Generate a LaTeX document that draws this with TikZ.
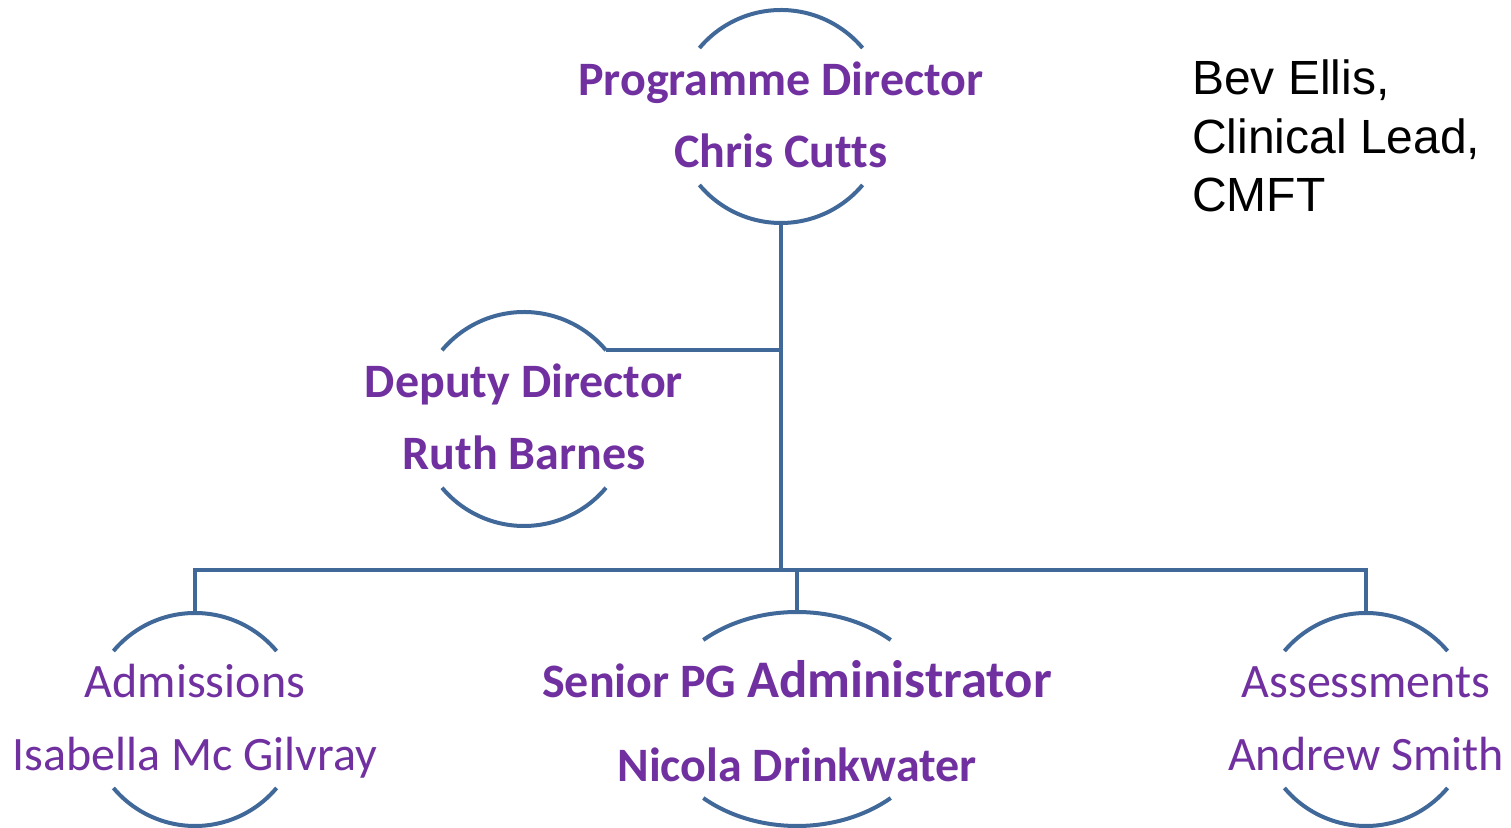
\documentclass[tikz,border=0pt]{standalone}
\usepackage{fontspec}
\setmainfont{Carlito}[Ligatures=NoCommon]
\newfontfamily\arialfont{Liberation Sans}
\usetikzlibrary{calc}
\definecolor{linecol}{RGB}{64,104,152}
\definecolor{txtpurple}{RGB}{112,48,160}
\tikzset{
  arcline/.style={draw=linecol, line width=3pt},
  conn/.style={draw=linecol, line width=3pt},
  holder/.style={circle, inner sep=0pt, outer sep=0pt, minimum size=#1*0.75pt},
  boldtxt/.style={text=txtpurple, font=\bfseries\fontsize{#1}{#1}\selectfont, anchor=base, inner sep=0pt},
  regtxt/.style={text=txtpurple, font=\fontsize{#1}{#1}\selectfont, anchor=base, inner sep=0pt},
}
\begin{document}
\begin{tikzpicture}[x=0.75pt, y=0.75pt]
\useasboundingbox (0,0) rectangle (1511,828);
% holders
\node[holder=213] (pd) at (781,711.5) {};
\node[holder=214] (dd) at (524,409) {};
\node[holder=213] (adm) at (195,108.5) {};
\node[holder=213] (asm) at (1366,108.5) {};
\coordinate (spg) at (797,109);
\coordinate (spgtop) at (797,216);
% arcs
\foreach \n/\r in {pd/106.5, dd/107, adm/106.5, asm/106.5}{
  \draw[arcline] (\n.140) arc[start angle=140, end angle=40, radius=\r*0.75pt];
  \draw[arcline] (\n.220) arc[start angle=220, end angle=320, radius=\r*0.75pt];
}
\draw[arcline] ($(spg)+(132.4:139 and 107)$) arc[start angle=132.4, end angle=47.6, x radius=139*0.75pt, y radius=107*0.75pt];
\draw[arcline] ($(spg)+(227.6:139 and 107)$) arc[start angle=227.6, end angle=312.4, x radius=139*0.75pt, y radius=107*0.75pt];
% connectors
\coordinate (bus) at (781,258);
\draw[conn] (pd.south) -- (bus);
\draw[conn] (dd.40) -- (dd.40 -| pd.south);
\draw[conn] (adm.north) -- (adm.north |- bus) -- (asm.north |- bus) -- (asm.north);
\draw[conn] (spgtop) -- (spgtop |- bus);
% texts
\node[boldtxt=36pt] (pdt1) at (781,732) {Programme Director};
\node[boldtxt=36pt] (pdt2) at (781,660) {Chris Cutts};
\node[boldtxt=36pt] (ddt1) at (524,430) {Deputy Director};
\node[boldtxt=36pt] (ddt2) at (524,358) {Ruth Barnes};
\node[regtxt=36pt] (admt1) at (195,130) {Admissions};
\node[regtxt=36pt] (admt2) at (195,57) {Isabella Mc Gilvray};
\node[boldtxt=36pt] (spgt1) at (797,130) {Senior PG {\fontsize{39.6pt}{39.6pt}\selectfont Administrator}};
\node[boldtxt=36pt] (spgt2) at (797,46) {Nicola Drinkwater};
\node[regtxt=36pt] (asmt1) at (1366,130) {Assessments};
\node[regtxt=36pt] (asmt2) at (1366,57) {Andrew Smith};
\node[anchor=base west, inner sep=0pt, align=left, font=\arialfont\fontsize{36pt}{43.9pt}\selectfont] (bev) at (1192,616) {Bev Ellis,\\Clinical Lead,\\CMFT};
\end{tikzpicture}
\end{document}
